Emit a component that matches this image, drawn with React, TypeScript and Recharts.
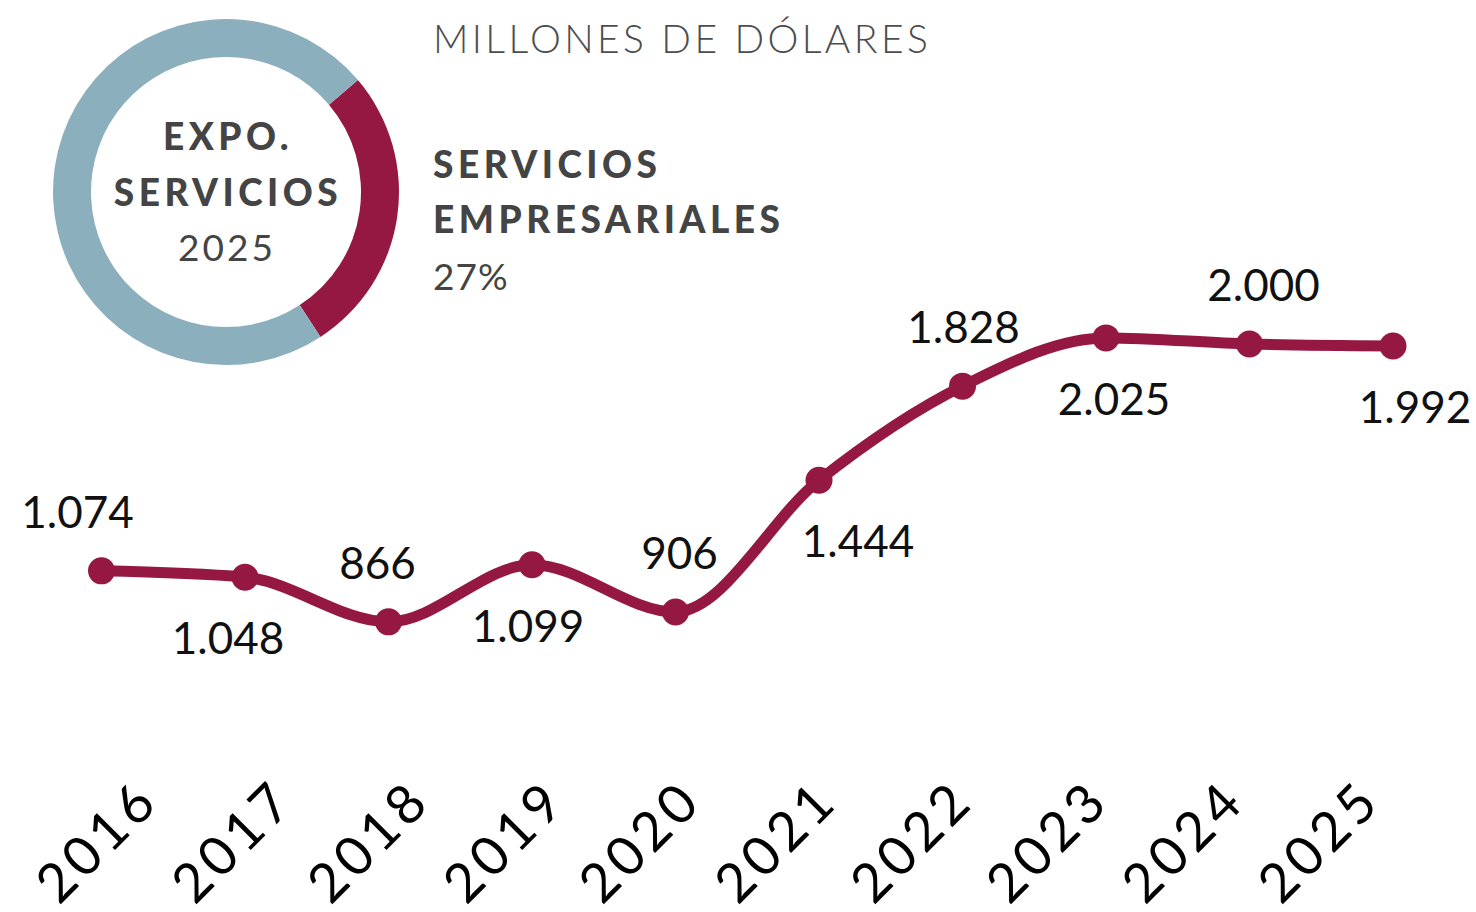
import { LineChart, Line, XAxis, YAxis, LabelList, PieChart, Pie, Cell } from "recharts";

const years = ["2016", "2017", "2018", "2019", "2020", "2021", "2022", "2023", "2024", "2025"];
const exportValues = [1074, 1048, 866, 1099, 906, 1444, 1828, 2025, 2000, 1992];

const shareNames = ["Servicios empresariales", "Resto de servicios"];
const shareValues = [27, 73];

const CRIMSON = "#951843";
const STEEL = "#8cafbe";
const TEXT_GRAY = "#444444";
const FONT = "Lato, 'Noto Sans', sans-serif";

// nudges so labels sit clear of the line, like the original
const LABEL_DX = [-24, -17, -11, -4, 4, 39, 1, 8, 14, 22];

const rows = years.map((year, i) => ({ year, value: exportValues[i] }));
const shareRows = shareNames.map((name, i) => ({ name, value: shareValues[i] }));

function formatThousands(v: number) {
  return String(v).replace(/\B(?=(\d{3})+(?!\d))/g, ".");
}

function ValueLabel(props: any) {
  const { x, y, value, index } = props;
  const above = index % 2 === 0;
  return (
    <text
      x={x + LABEL_DX[index]}
      y={y + (above ? -59 : 61)}
      dy="0.36em"
      textAnchor="middle"
      fontSize={44}
      fill="#111"
      fontFamily={FONT}
    >
      {formatThousands(value)}
    </text>
  );
}

function YearTick(props: any) {
  const { x, y, payload } = props;
  return (
    <g transform={`translate(${x + 2.5},${y - 23}) rotate(-45)`}>
      <text
        textAnchor="middle"
        dy="0.36em"
        fontSize={54}
        letterSpacing={5}
        fill="#000"
        fontFamily={FONT}
      >
        {payload.value}
      </text>
    </g>
  );
}

export default function App() {
  return (
    <div
      style={{
        position: "absolute",
        left: 0,
        top: 0,
        width: 1476,
        height: 912,
        background: "#fff",
        overflow: "hidden",
      }}
    >
      <div style={{ position: "absolute", left: 0, top: 0 }}>
        <LineChart
          width={1476}
          height={912}
          data={rows}
          margin={{ top: 221.5, right: 83, bottom: 18, left: 94 }}
        >
          <XAxis xAxisId="pts" dataKey="year" hide padding={{ left: 7.5, right: 0 }} />
          <XAxis
            xAxisId="yrs"
            dataKey="year"
            height={60}
            axisLine={false}
            tickLine={false}
            tickSize={0}
            tickMargin={0}
            interval={0}
            tick={<YearTick />}
            padding={{ left: 0, right: 77 }}
          />
          <YAxis hide domain={[0, 2500]} />
          <Line
            xAxisId="pts"
            type="monotone"
            dataKey="value"
            stroke={CRIMSON}
            strokeWidth={11}
            dot={{ r: 13.5, fill: CRIMSON, stroke: "none" }}
            activeDot={false}
            isAnimationActive={false}
          >
            <LabelList dataKey="value" content={ValueLabel} />
          </Line>
        </LineChart>
      </div>

      <div style={{ position: "absolute", left: 45.5, top: 11.7 }}>
        <PieChart width={360} height={360} margin={{ top: 0, right: 0, bottom: 0, left: 0 }}>
          <Pie
            data={shareRows}
            dataKey="value"
            nameKey="name"
            cx={180}
            cy={180}
            innerRadius={135}
            outerRadius={173}
            startAngle={40.3}
            endAngle={-319.7}
            stroke="none"
            isAnimationActive={false}
          >
            <Cell fill={CRIMSON} />
            <Cell fill={STEEL} />
          </Pie>
        </PieChart>
      </div>

      <svg
        width={1476}
        height={912}
        style={{ position: "absolute", left: 0, top: 0, pointerEvents: "none" }}
        fontFamily={FONT}
      >
        <g textAnchor="middle" fill={TEXT_GRAY}>
          <text x={228} y={136.7} dy="0.36em" fontSize={37} fontWeight={900} letterSpacing={4.5}>
            EXPO.
          </text>
          <text x={228} y={192.5} dy="0.36em" fontSize={37} fontWeight={900} letterSpacing={4.5}>
            SERVICIOS
          </text>
          <text x={227} y={248} dy="0.36em" fontSize={37} letterSpacing={3}>
            2025
          </text>
        </g>
        <g fill={TEXT_GRAY}>
          <text x={433} y={39} dy="0.36em" fontSize={39} fontWeight={300} letterSpacing={3.4} fill="#4d4d4d">
            MILLONES DE DÓLARES
          </text>
          <text x={433} y={165} dy="0.36em" fontSize={37} fontWeight={900} letterSpacing={4.5}>
            SERVICIOS
          </text>
          <text x={433} y={220} dy="0.36em" fontSize={37} fontWeight={900} letterSpacing={4.5}>
            EMPRESARIALES
          </text>
          <text x={433} y={276.5} dy="0.36em" fontSize={37} letterSpacing={1}>
            27%
          </text>
        </g>
      </svg>
    </div>
  );
}
